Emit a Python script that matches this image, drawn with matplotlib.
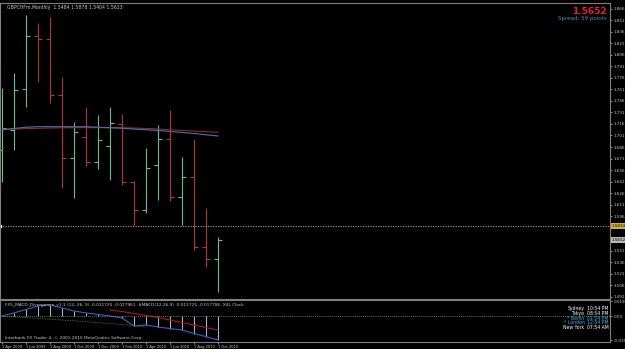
import matplotlib
matplotlib.use("Agg")
import matplotlib.pyplot as plt
import matplotlib.transforms as mtransforms

# monthly GBPCHF bars, Apr 2009 .. Oct 2010
months = ["Apr 2009", "May 2009", "Jun 2009", "Jul 2009", "Aug 2009", "Sep 2009",
          "Oct 2009", "Nov 2009", "Dec 2009", "Jan 2010", "Feb 2010", "Mar 2010",
          "Apr 2010", "May 2010", "Jun 2010", "Jul 2010", "Aug 2010", "Sep 2010",
          "Oct 2010"]
opens = [1.6822, 1.7082, 1.7615, 1.8304, 1.8265, 1.7537, 1.6718, 1.6991, 1.6666, 1.6874,
         1.7160, 1.6406, 1.6042, 1.6627, 1.6965, 1.6211, 1.6471, 1.5561, 1.5405]
highs = [1.7628, 1.7823, 1.8577, 1.8473, 1.8551, 1.7771, 1.7186, 1.7381, 1.7277, 1.7381,
         1.7290, 1.6419, 1.6848, 1.7147, 1.7342, 1.6731, 1.6965, 1.6068, 1.5691]
lows = [1.6406, 1.6822, 1.7381, 1.7706, 1.7433, 1.6328, 1.6198, 1.6614, 1.6575, 1.6432,
        1.6367, 1.5847, 1.6003, 1.6172, 1.6159, 1.5847, 1.5522, 1.5301, 1.4976]
closes = [1.7108, 1.7602, 1.8304, 1.8265, 1.7537, 1.6718, 1.7056, 1.6666, 1.6952, 1.7173,
          1.6406, 1.6042, 1.6588, 1.6965, 1.6211, 1.6471, 1.5561, 1.5405, 1.5652]

ma_red = [1.7091, 1.7095, 1.7100, 1.7104, 1.7108, 1.7111, 1.7112, 1.7112, 1.7112, 1.7112,
          1.7112, 1.7108, 1.7102, 1.7095, 1.7085, 1.7076, 1.7069, 1.7060, 1.7052]
ma_blue = [1.7082, 1.7102, 1.7118, 1.7125, 1.7125, 1.7125, 1.7125, 1.7124, 1.7118, 1.7112,
           1.7105, 1.7095, 1.7085, 1.7076, 1.7063, 1.7050, 1.7037, 1.7020, 1.7004]

# MACD panel
macd_hist = [0.0, 0.0040, 0.0085, 0.0130, 0.0145, 0.0105, 0.0065, 0.0040, 0.0020, 0.0,
             -0.0026, -0.0130, -0.0117, -0.0143, -0.0163, -0.0182, -0.0228, -0.0267, -0.0312]
signal_idx = [9, 10, 11, 12, 13, 14, 15, 16, 17, 18]
signal_vals = [0.0078, 0.0059, 0.0033, 0.0007, -0.0020, -0.0052, -0.0085, -0.0117, -0.0150, -0.0182]
diverg_idx = [0, 1, 2, 3, 4, 5, 6, 7, 8, 9, 10, 11, 12]
diverg_vals = [0.0, -0.0010, -0.0021, -0.0032, -0.0042, -0.0052, -0.0063, -0.0074, -0.0086,
               -0.0098, -0.0110, -0.0125, -0.0143]

# axis labels (the two covered by the line/bid boxes are left out)
price_ticks = [1.4911, 1.5061, 1.5211, 1.5361, 1.5511, 1.5961, 1.6111,
               1.6261, 1.6411, 1.6561, 1.6711, 1.6861, 1.7011, 1.7161, 1.7311, 1.7461,
               1.7611, 1.7761, 1.7911, 1.8061, 1.8211, 1.8361, 1.8511, 1.8661]
date_ticks = [0, 2, 4, 6, 8, 10, 12, 14, 16, 18]
date_labels = ["1 Apr 2009", "1 Jun 2009", "1 Aug 2009", "1 Oct 2009", "1 Dec 2009",
               "1 Feb 2010", "1 Apr 2010", "1 Jun 2010", "1 Aug 2010", "1 Oct 2010"]

bid = 1.5652
hline_level = 1.5834
clock_names = ["Sydney", "Tokyo", "* Berlin", "* London", "New York"]
clock_times = ["10:54 PM", "08:54 PM", "01:54 PM", "12:54 PM", "07:54 AM"]
clock_colors = ["white", "white", "#3fb6e8", "#3fb6e8", "white"]

GREEN = "#66c18c"
RED = "#b5323e"
BORDER = "#808080"
LBL = "#c8c8c8"

W, H = 625, 349
fig = plt.figure(figsize=(W / 100, H / 100), dpi=100, facecolor="black")
ax = fig.add_axes([0, (H - 299) / H, 610 / W, 296 / H], facecolor="black")
ax2 = fig.add_axes([0, (H - 342) / H, 610 / W, 42 / H], facecolor="black")

xmin = -2 / 12
xmax = xmin + 610 / 12
for a in (ax, ax2):
    a.set_xlim(xmin, xmax)
    for s in a.spines.values():
        s.set_color(BORDER)
        s.set_linewidth(0.8)
    a.yaxis.tick_right()
    a.tick_params(axis="y", colors=LBL, labelsize=3.0, length=1.5, width=0.5, pad=1)

# OHLC bars
for i in range(len(opens)):
    c = GREEN if closes[i] >= opens[i] else RED
    ax.vlines(i, lows[i], highs[i], color=c, lw=0.8)
    ax.hlines(opens[i], i - 0.35, i, color=c, lw=0.8)
    ax.hlines(closes[i], i, i + 0.35, color=c, lw=0.8)

xs = list(range(len(opens)))
ax.plot(xs, ma_red, color="#8c2a36", lw=0.8)
ax.plot(xs, ma_blue, color="#5a6ca8", lw=0.8)

ax.set_ylim(1.4885, 1.8733)
ax.axhline(hline_level, color="#c8b060", lw=0.6, ls=(0, (1.5, 1.5)))
ax.set_xticks([])
ax.set_yticks(price_ticks)
ax.set_yticklabels([f"{t:.4f}" for t in price_ticks])

tr = mtransforms.blended_transform_factory(ax.transAxes, ax.transData)
ax.text(1.003, hline_level, f"{hline_level:.4f}", transform=tr, fontsize=3.0, color="black",
        va="center", ha="left", bbox=dict(boxstyle="square,pad=0.2", fc="#d8b040", ec="none"))
ax.text(1.003, bid, f"{bid:.4f}", transform=tr, fontsize=3.0, color="black",
        va="center", ha="left", bbox=dict(boxstyle="square,pad=0.2", fc="#b8b8b8", ec="none"))
ax.plot([0], [hline_level], marker="s", ms=1.5, color="white", transform=tr, clip_on=False)

ax.text(0.012, 0.992, "GBPCHFm,Monthly  1.5484 1.5878 1.5404 1.5623", transform=ax.transAxes,
        fontsize=3.3, color=LBL, va="top", ha="left")
ax.text(0.995, 0.985, f"{bid:.4f}", transform=ax.transAxes, fontsize=6.5, color="#e8202a",
        fontweight="bold", va="top", ha="right")
ax.text(0.995, 0.955, "Spread: 59 points", transform=ax.transAxes, fontsize=4,
        color="#5b86c4", va="top", ha="right")

# MACD panel
ax2.set_ylim(-0.0338, 0.0208)
ax2.vlines(xs, 0, macd_hist, color="#a9c2e0", lw=0.7)
ax2.plot(xs, macd_hist, color="#3a5fc8", lw=0.8)
ax2.plot(signal_idx, signal_vals, color="#b01818", lw=0.8)
ax2.plot(diverg_idx, diverg_vals, color="#2e8b3e", lw=0.6, ls=(0, (1, 1)))
ax2.axhline(0, color="#909090", lw=0.5, ls=(0, (1.5, 1.5)))
ax2.set_yticks([0.0190, 0.0, -0.0317])
ax2.set_yticklabels(["0.0190", "0.00", "-0.0317"])

ax2.text(0.008, 0.93, "FX5_MACD_Divergence_v1.1 (12, 26, 9) -0.011725 -0.017961  "
         "#MACD(12,26,9) -0.011725 -0.017786  X4L Clock",
         transform=ax2.transAxes, fontsize=3.1, color=LBL, va="top", ha="left")
ax2.text(0.008, 0.1, "Interbank FX Trader 4, \u00a9 2001-2010 MetaQuotes Software Corp.",
         transform=ax2.transAxes, fontsize=3.1, color=LBL, va="center", ha="left")
for k, (n, t, c) in enumerate(zip(clock_names, clock_times, clock_colors)):
    yy = 0.8 - k * 0.115
    ax2.text(0.958, yy, n, transform=ax2.transAxes, fontsize=3.3, color=c,
             va="center", ha="right")
    ax2.text(0.963, yy, t, transform=ax2.transAxes, fontsize=3.3, color=c,
             va="center", ha="left")

ax2.set_xticks(date_ticks)
ax2.set_xticklabels(date_labels, ha="left")
ax2.tick_params(axis="x", colors=LBL, labelsize=2.6, length=1.5, width=0.5, pad=0.5)

fig.savefig("out.png", dpi=100, facecolor="black")
